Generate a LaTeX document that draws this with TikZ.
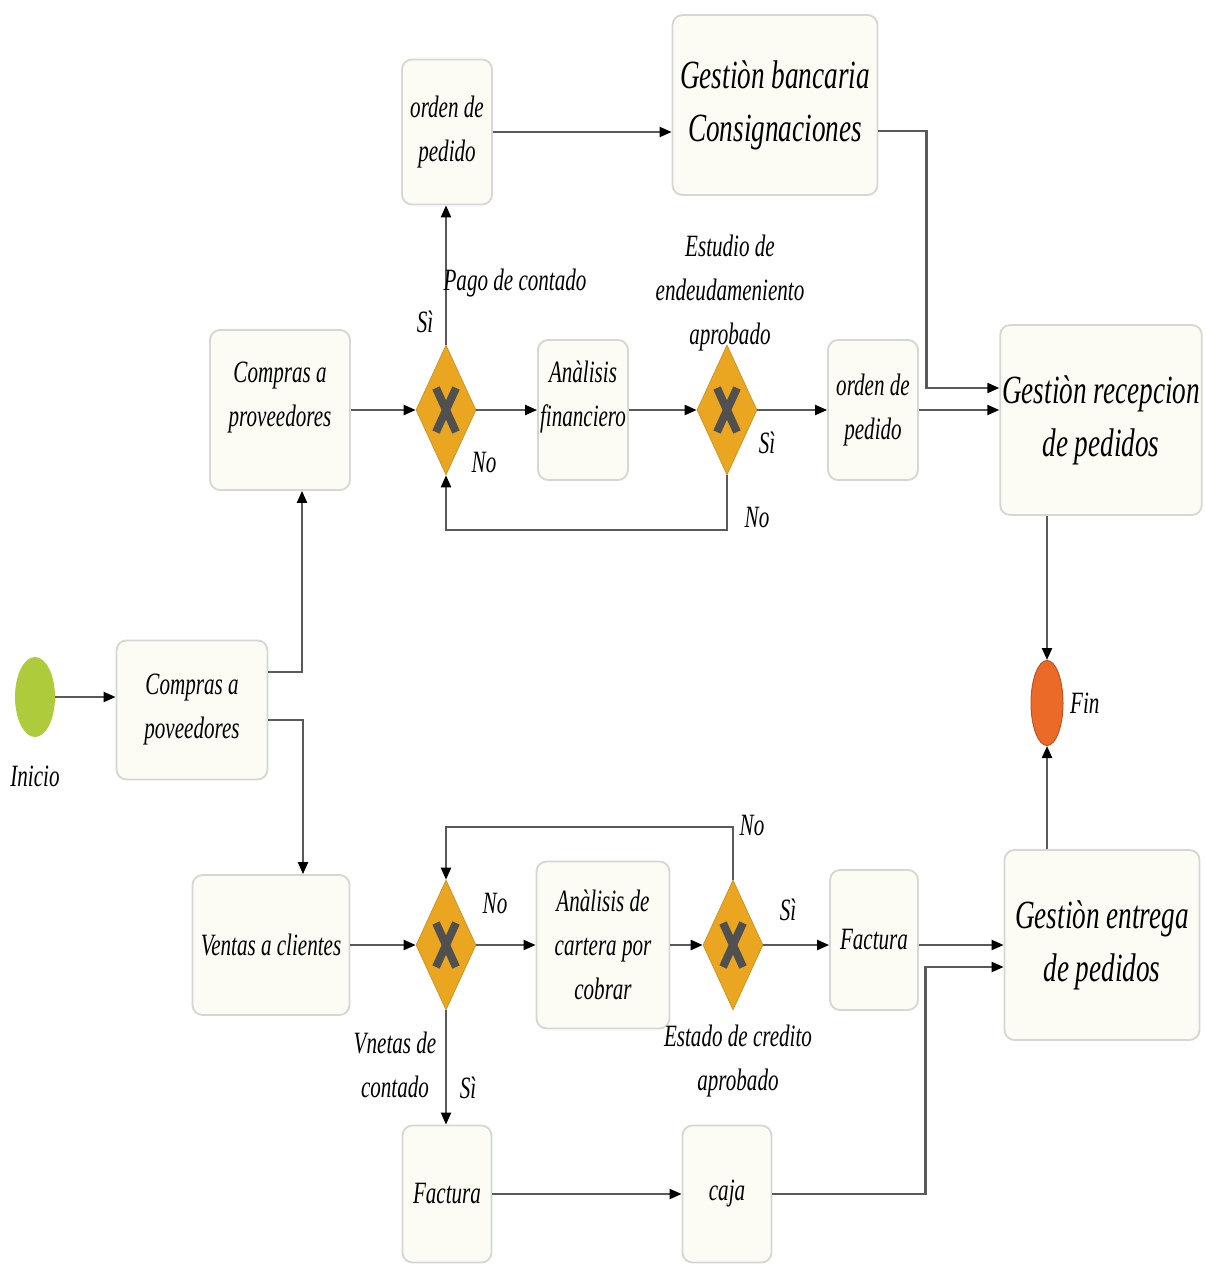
\documentclass[tikz,border=0pt]{standalone}
\usepackage{fontspec}
\newfontfamily\dfont{Liberation Serif}[FakeStretch=0.68]
\usetikzlibrary{shapes.geometric,arrows.meta}
\definecolor{boxfill}{HTML}{FCFCF4}
\definecolor{boxline}{HTML}{D6D6D2}
\definecolor{linegray}{HTML}{5A5A5A}
\definecolor{gateor}{HTML}{EAA620}
\definecolor{xgray}{HTML}{505050}
\definecolor{startgreen}{HTML}{AECB3C}
\definecolor{endorange}{HTML}{EB6A28}
\tikzset{
  txt/.style={font=\dfont\itshape\fontsize{31}{44}\selectfont},
  bigtxt/.style={font=\dfont\itshape\fontsize{40}{53}\selectfont},
  taskbox/.style={draw=boxline, fill=boxfill, rounded corners=10pt, line width=1.8pt,
    align=center, inner sep=2pt, txt},
  bigbox/.style={taskbox, bigtxt},
  gate/.style={diamond, fill=gateor, draw=gateor!85!black, line width=0.6pt,
    minimum width=60pt, minimum height=130pt, inner sep=0pt,
    path picture={
      \draw[xgray, line width=8pt]
        ([shift={(-10pt,-22pt)}]path picture bounding box.center) --
        ([shift={(10pt,22pt)}]path picture bounding box.center);
      \draw[xgray, line width=8pt]
        ([shift={(-10pt,22pt)}]path picture bounding box.center) --
        ([shift={(10pt,-22pt)}]path picture bounding box.center);
    }},
  event/.style={ellipse, inner sep=0pt},
  lbl/.style={align=center, inner sep=0pt, txt},
  flow/.style={draw=linegray, line width=2.2pt,
    -{Triangle[length=12pt,width=10pt,color=black]}},
}
\begin{document}
\begin{tikzpicture}[x=1pt, y=-1pt]
\useasboundingbox[fill=white] (0,0) rectangle (1206,1266);

% start and end events
\node[event, fill=startgreen, minimum width=40pt, minimum height=80pt] (ini) at (35,697) {};
\node[lbl] (iniL) at (35,776) {Inicio};
\node[event, fill=endorange, draw=endorange!80!black, line width=1pt,
      minimum width=32pt, minimum height=85pt] (fin) at (1047,703) {};
\node[lbl, anchor=west] (finL) at (1070,703) {Fin};

% tasks
\node[taskbox, minimum width=151pt, minimum height=139pt] (c0) at (192,710) {Compras a\\poveedores};
\node[taskbox, minimum width=140pt, minimum height=160pt] (cp) at (280,410) {Compras a\\proveedores\\[-12pt]};
\node[taskbox, minimum width=90pt, minimum height=145pt] (op1) at (447,132) {orden de\\pedido};
\node[bigbox, minimum width=205pt, minimum height=180pt] (gb) at (775,105) {Gestiòn bancaria\\Consignaciones};
\node[taskbox, minimum width=90pt, minimum height=140pt] (af) at (583,410) {Anàlisis\\financiero\\[-12pt]};
\node[taskbox, minimum width=90pt, minimum height=140pt] (op2) at (873,410) {orden de\\pedido};
\node[bigbox, minimum width=197pt, minimum height=190pt] (rec) at (1101,420) {Gestiòn recepcion\\de pedidos};
\node[taskbox, minimum width=157pt, minimum height=140pt] (vc) at (271,945) {Ventas a clientes};
\node[taskbox, minimum width=133pt, minimum height=167pt] (cc) at (603,945) {Anàlisis de\\cartera por\\cobrar};
\node[taskbox, minimum width=88pt, minimum height=140pt] (f1) at (874,940) {Factura};
\node[bigbox, minimum width=195pt, minimum height=190pt] (ent) at (1102,945) {Gestiòn entrega\\de pedidos};
\node[taskbox, minimum width=89pt, minimum height=137pt] (f2) at (447,1194) {Factura};
\node[taskbox, minimum width=89pt, minimum height=137pt] (cj) at (727,1194) {caja};

% gateways
\node[gate] (d1) at (446,410) {};
\node[gate] (d2) at (727,410) {};
\node[gate] (d3) at (446,945) {};
\node[gate] (d4) at (733,945) {};

% connectors, purchasing branch
\draw[flow] (ini.east) -- (ini.east -| c0.west);
\draw[flow] ([yshift=38pt]c0.east) -| ([xshift=22pt]cp.south);
\draw[flow] ([yshift=-10pt]c0.east) -| ([xshift=32pt]vc.north);
\draw[flow] (cp.east) -- (d1.west);
\draw[flow] (d1.north) -- (d1.north |- op1.south);
\draw[flow] (d1.east) -- (af.west);
\draw[flow] (af.east) -- (d2.west);
\draw[flow] (d2.east) -- (op2.west);
\draw[flow] (op2.east) -- (op2.east -| rec.west);
\draw[flow] (d2.south) -- ++(0,55) -| (d1.south);
\draw[flow] (op1.east) -- (op1.east -| gb.west);
\draw[flow] ([yshift=-26pt]gb.east) -- ++(48,0) |- ([yshift=32pt]rec.west);
\draw[flow] (rec.south -| fin.north) -- (fin.north);

% connectors, sales branch
\draw[flow] (ent.north -| fin.south) -- (fin.south);
\draw[flow] (vc.east) -- (d3.west);
\draw[flow] (d3.east) -- (cc.west);
\draw[flow] (cc.east) -- (d4.west);
\draw[flow] (d4.east) -- (d4.east -| f1.west);
\draw[flow] (d4.east -| f1.east) -- (d4.east -| ent.west);
\draw[flow] (d4.north) -- ++(0,-53) -| (d3.north);
\draw[flow] (d3.south) -- (d3.south |- f2.north);
\draw[flow] (f2.east) -- (cj.west);
\draw[flow] (cj.east) -- ++(153,0) |- ([yshift=-22pt]ent.west);

% gateway labels
\node[lbl] (s1) at (425,322) {Sì};
\node[lbl] (pc) at (515,283) {Pago de contado};
\node[lbl] (n1) at (484,462) {No};
\node[lbl] (ed) at (730,293) {Estudio de\\endeudameniento\\aprobado};
\node[lbl] (s2) at (767,443) {Sì};
\node[lbl] (n2) at (757,517) {No};
\node[lbl] (n3) at (752,825) {No};
\node[lbl] (n4) at (495,903) {No};
\node[lbl] (s3) at (788,910) {Sì};
\node[lbl] (ec) at (738,1061) {Estado de credito\\aprobado};
\node[lbl] (vn) at (395,1065) {Vnetas de\\contado};
\node[lbl] (s4) at (468,1088) {Sì};
\end{tikzpicture}
\end{document}
